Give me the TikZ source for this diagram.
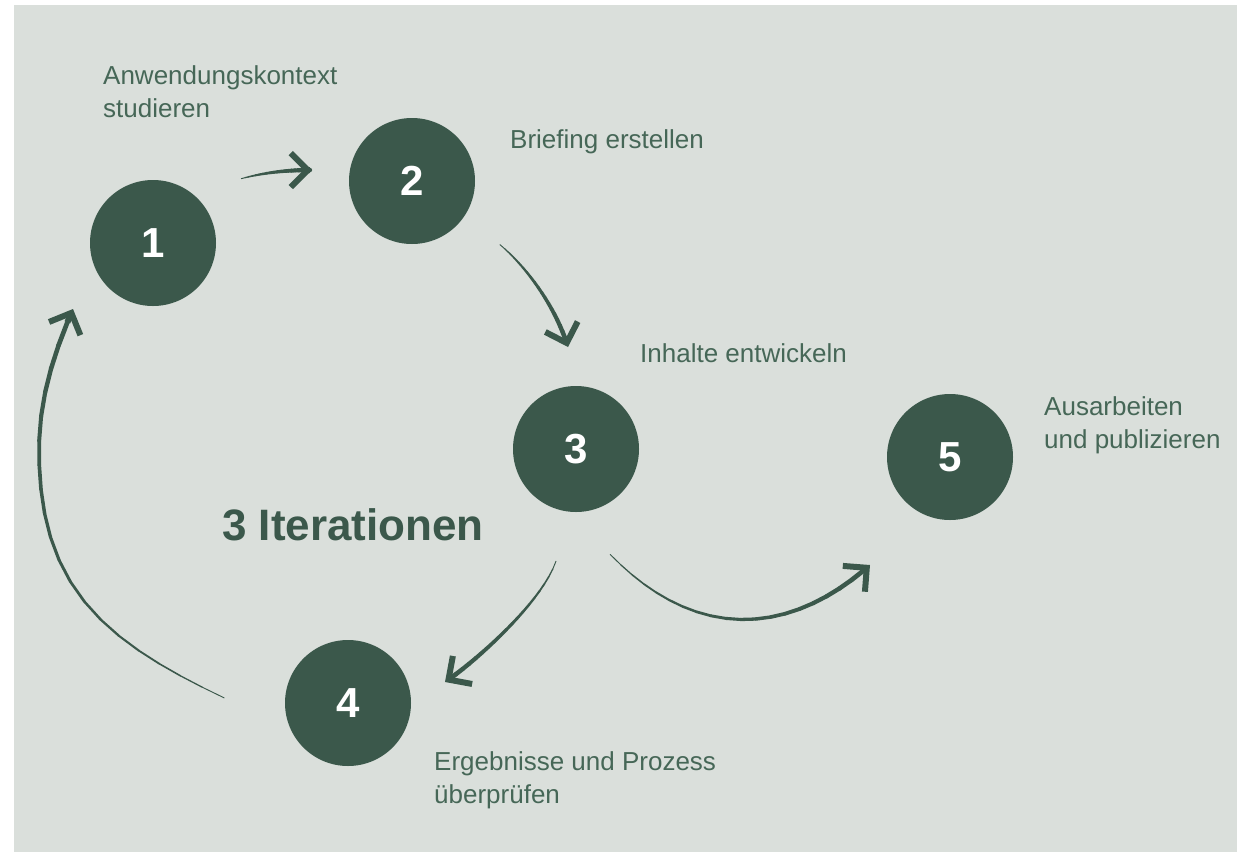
\documentclass[tikz,border=0pt]{standalone}
\usepackage{fontspec}
\setmainfont{Liberation Sans}
\usetikzlibrary{arrows.meta,decorations.markings}

\definecolor{sage}{HTML}{DADFDB}
\definecolor{pine}{HTML}{3B584B}
\definecolor{pinetext}{HTML}{466757}

\tikzset{
    bubble/.style={circle, fill=pine, minimum size=126pt, inner sep=0pt,
        text=white, font=\fontsize{42}{42}\selectfont\bfseries},
    caption/.style={anchor=base west, align=left, inner sep=0pt,
        text=pinetext, font=\fontsize{26}{33}\selectfont},
    sample/.style={decoration={markings,
        mark=between positions 0.02 and 0.98 step 0.05 with
        {\coordinate (#1-\pgfkeysvalueof{/pgf/decoration/mark info/sequence number});}},
        postaction=decorate},
}

% tapered stroke through the sampled points, open tip at the end
\newcommand{\sweep}[2]{%
    \foreach \i [evaluate=\i as \j using int(\i+1)] in {1,...,19} {
        \draw[pine, line cap=round, line width={0.4pt+4.4pt*(\i/20)^0.7}] (#1-\i) -- (#1-\j);
    }
    \draw[pine, line width=6pt, -{Straight Barb[length=17pt,width=34pt]}] (#1-20) -- (#2);
}

\begin{document}
\begin{tikzpicture}[x=1pt, y=-1pt]
            \useasboundingbox (0,0) rectangle (1237,852);
            \fill[sage] (14,5) rectangle (1237,852);

            % Draw the five steps
            \node[bubble] (n1) at (153,243) {1};
            \node[bubble] (n2) at (412,181) {2};
            \node[bubble] (n3) at (576,449) {3};
            \node[bubble] (n4) at (348,703) {4};
            \node[bubble] (n5) at (950,457) {5};

            % Add the labels (base = last line)
            \node[caption] (l1) at (103,117) {Anwendungskontext\\studieren};
            \node[caption] (l2) at (510,148) {Briefing erstellen};
            \node[caption] (l3) at (640,362) {Inhalte entwickeln};
            \node[caption] (l4) at (434,803) {Ergebnisse und Prozess\\überprüfen};
            \node[caption] (l5) at (1044,448) {Ausarbeiten\\und publizieren};
            \node[anchor=base west, inner sep=0pt, text=pine,
                font=\fontsize{44}{44}\selectfont\bfseries] (iter) at (222,540) {3 Iterationen};

            % Free ends of the arrows
            \coordinate (s12) at (240,179);  \coordinate (e12) at (312,170);
            \coordinate (s23) at (498,243);  \coordinate (e23) at (568,347);
            \coordinate (s34) at (557,558);  \coordinate (e34) at (445,682);
            \coordinate (s35) at (606,550);  \coordinate (e35) at (870,565);
            \coordinate (s41) at (233,702);  \coordinate (e41) at (73,309);

            \path[sample=a12] (s12) .. controls (262,173) and (285,170) .. (e12);
            \path[sample=a23] (s23) .. controls (525,265) and (555,305) .. (e23);
            \path[sample=a34] (s34) .. controls (545,600) and (475,662) .. (e34);
            \path[sample=a35] (s35) .. controls (690,640) and (785,640) .. (e35);
            \path[sample=a41] (s41) .. controls (106,643) and (39,590) .. (39,450)
                .. controls (39,400) and (53,355) .. (e41);

            \sweep{a12}{e12}
            \sweep{a23}{e23}
            \sweep{a34}{e34}
            \sweep{a35}{e35}
            \sweep{a41}{e41}
        \end{tikzpicture}
\end{document}
